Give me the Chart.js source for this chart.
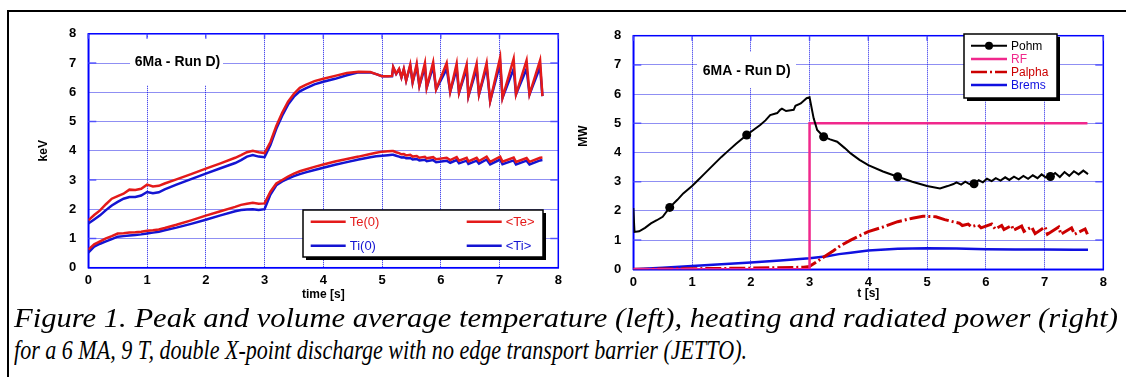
<!DOCTYPE html>
<html><head><meta charset="utf-8">
<script src="https://cdn.jsdelivr.net/npm/chart.js@4.4.1/dist/chart.umd.min.js"></script>
<style>
html,body{margin:0;padding:0;background:#fff;}
body{width:1126px;height:377px;position:relative;overflow:hidden;}
#frameTop{position:absolute;left:7px;top:10px;width:1119px;height:2px;background:#000;}
#frameLeft{position:absolute;left:7px;top:10px;width:2px;height:367px;background:#000;}
canvas{position:absolute;}
.cap{position:absolute;left:14px;font-family:"Liberation Serif","Times New Roman",serif;font-style:italic;font-size:28px;white-space:nowrap;transform-origin:0 0;line-height:1;color:#000;}
</style></head>
<body>
<div id="frameTop"></div><div id="frameLeft"></div>
<canvas id="cl" width="556" height="290" style="left:12px;top:14px;"></canvas>
<canvas id="cr" width="556" height="290" style="left:570px;top:14px;"></canvas>
<div class="cap" id="cap1" style="top:304px;">Figure 1. Peak and volume average temperature (left), heating and radiated power (right)</div>
<div class="cap" id="cap2" style="top:336px;">for a 6 MA, 9 T, double X-point discharge with no edge transport barrier (JETTO).</div>
<script>
// ---------------- DATA ----------------
const xTicks = [0,1,2,3,4,5,6,7,8];
const yTicks = [0,1,2,3,4,5,6,7,8];

// Left panel: temperatures (keV) vs time [s]
const tLeft = [0,0.1,0.2,0.3,0.4,0.5,0.6,0.7,0.8,0.9,1.0,1.1,1.2,1.3,1.5,1.75,2.0,2.25,2.5,2.6,2.7,2.8,2.9,3.0,
  3.1,3.2,3.3,3.4,3.5,3.6,3.7,3.85,4.0,4.2,4.4,4.6,4.8,4.9,5.0,5.1,5.17,
  5.19,5.24,5.29,5.33,5.37,5.41,5.48,5.52,5.59,5.635,5.73,5.76,5.87,5.92,6.10,6.16,6.27,6.31,6.44,6.47,6.61,6.65,6.78,6.84,7.01,7.05,7.24,7.28,7.46,7.51,7.69,7.73];
const te0 = [1.62,1.80,1.96,2.17,2.36,2.45,2.53,2.67,2.66,2.70,2.84,2.78,2.80,2.88,3.02,3.20,3.39,3.57,3.76,3.85,3.95,4.00,3.95,3.92,
  4.30,4.85,5.30,5.68,5.95,6.15,6.25,6.38,6.46,6.56,6.66,6.70,6.69,6.62,6.55,6.55,6.56,
  6.86,6.63,6.80,6.51,6.80,6.40,6.95,6.34,6.98,6.22,7.00,6.16,7.03,6.10,7.00,6.02,6.98,5.99,6.95,5.87,6.98,5.93,7.00,5.70,7.19,5.81,7.15,5.93,7.09,5.93,7.09,5.87];
const ti0 = [1.51,1.65,1.79,1.97,2.13,2.25,2.36,2.42,2.42,2.47,2.59,2.55,2.58,2.68,2.84,3.03,3.22,3.40,3.58,3.68,3.80,3.85,3.80,3.78,
  4.20,4.75,5.20,5.58,5.85,6.03,6.13,6.27,6.36,6.46,6.58,6.68,6.68,6.62,6.55,6.55,6.55,
  6.85,6.63,6.78,6.51,6.78,6.40,6.90,6.34,6.88,6.22,6.86,6.16,6.88,6.10,6.80,6.02,6.80,5.99,6.80,5.87,6.80,5.93,6.86,5.70,6.98,5.81,6.80,5.93,6.80,5.93,6.86,5.87];
const teAvg = [0.62,0.80,0.90,1.00,1.08,1.17,1.18,1.20,1.21,1.23,1.26,1.28,1.31,1.36,1.47,1.62,1.78,1.93,2.08,2.15,2.19,2.22,2.19,2.20,
  2.60,2.88,3.00,3.12,3.22,3.30,3.36,3.45,3.53,3.63,3.72,3.80,3.89,3.93,3.97,3.98,3.99,
  3.99,3.95,3.92,3.88,3.89,3.84,3.86,3.80,3.82,3.76,3.79,3.74,3.78,3.71,3.76,3.68,3.78,3.66,3.76,3.64,3.76,3.65,3.80,3.62,3.80,3.63,3.77,3.62,3.75,3.62,3.76,3.77];
const tiAvg = [0.52,0.72,0.82,0.90,0.98,1.06,1.08,1.10,1.12,1.14,1.17,1.20,1.23,1.28,1.37,1.50,1.64,1.79,1.93,1.97,1.99,2.00,1.97,2.00,
  2.50,2.82,2.95,3.05,3.13,3.20,3.26,3.34,3.42,3.52,3.61,3.70,3.78,3.81,3.83,3.85,3.86,
  3.86,3.83,3.80,3.77,3.78,3.74,3.75,3.70,3.72,3.67,3.69,3.64,3.68,3.61,3.66,3.59,3.68,3.57,3.66,3.55,3.66,3.56,3.70,3.53,3.70,3.54,3.67,3.53,3.66,3.53,3.67,3.68];

// Right panel: powers (MW) vs t [s]
const tPohm = [0,0.02,0.1,0.2,0.3,0.4,0.5,0.62,0.75,0.85,1.0,1.1,1.2,1.35,1.5,1.6,1.75,1.93,2.05,2.16,2.25,2.33,2.45,2.5,2.53,2.6,2.68,2.73,2.76,2.85,2.95,3.0,
  3.07,3.13,3.24,3.35,3.47,3.6,3.7,3.85,4.0,4.25,4.5,4.75,5.0,5.22,5.35,5.45,5.5,5.58,5.65,5.72,5.8,5.88,5.95,6.02,6.1,6.17,6.25,6.33,6.4,6.48,6.56,6.64,6.72,6.8,6.88,6.95,7.02,7.1,7.18,7.26,7.34,7.42,7.5,7.58,7.66,7.74];
const pohm = [2.1,1.28,1.3,1.42,1.57,1.68,1.8,2.12,2.38,2.6,2.85,3.05,3.25,3.55,3.85,4.03,4.3,4.6,4.78,4.94,5.1,5.28,5.35,5.46,5.5,5.42,5.45,5.46,5.6,5.68,5.86,5.89,
  5.17,4.77,4.54,4.45,4.37,4.15,3.97,3.75,3.57,3.35,3.17,3.0,2.85,2.77,2.85,2.92,2.98,2.9,3.0,2.92,2.93,3.05,2.98,3.1,3.02,3.12,3.04,3.15,3.06,3.17,3.08,3.2,3.1,3.22,3.12,3.25,3.15,3.18,3.3,3.16,3.33,3.2,3.36,3.25,3.38,3.26];
const pohmMarkerT = [0.62,1.93,3.24,4.5,5.8,7.1];
const tRF = [0,3.0,3.0,7.73];
const rf  = [0,0,5,5];
const tAlpha = [0,1.0,2.0,2.9,3.0,3.2,3.4,3.52,3.7,4.0,4.25,4.5,4.75,4.93,5.15,5.3,5.5,5.55,5.6,5.7,5.75,5.87,5.92,6.1,6.16,6.27,6.31,6.44,6.47,6.61,6.65,6.78,6.84,7.01,7.05,7.24,7.28,7.46,7.51,7.69,7.73];
const palpha = [0,0.02,0.04,0.07,0.1,0.36,0.63,0.8,1.0,1.29,1.45,1.63,1.75,1.82,1.8,1.7,1.6,1.58,1.5,1.55,1.46,1.52,1.42,1.55,1.38,1.5,1.36,1.5,1.34,1.48,1.3,1.45,1.22,1.45,1.2,1.45,1.2,1.42,1.2,1.38,1.2];
const tBrems = [0,0.5,1.0,1.5,2.0,2.5,3.0,3.3,3.5,3.7,4.0,4.5,5.0,5.5,6.0,6.5,7.0,7.5,7.74];
const brems  = [0,0.05,0.11,0.17,0.23,0.3,0.38,0.45,0.52,0.57,0.64,0.7,0.72,0.71,0.69,0.68,0.68,0.67,0.67];

// ---------------- STYLE / HELPERS ----------------
const FAM = '"Liberation Sans", Arial, sans-serif';
const GRID = 'rgba(20,20,230,0.95)';
const FRAME = '#0000ff';
const RED = '#e41a1a', BLUE = '#1414d2';
const xy = (xs, ys) => xs.map((x, i) => ({x, y: ys[i]}));

function decorPlugin(cfg) {
  return {
    id: 'decor',
    beforeDatasetsDraw(chart) {
      const {ctx, chartArea: ca} = chart;
      const ys = chart.scales.y, xs = chart.scales.x;
      ctx.save();
      ctx.fillStyle = '#fff';
      ctx.fillRect(...cfg.titleBox);
      ctx.font = 'bold 14px ' + FAM;
      ctx.fillStyle = '#000';
      ctx.textAlign = 'center'; ctx.textBaseline = 'middle';
      ctx.fillText(cfg.title, cfg.titlePos[0], cfg.titlePos[1]);
      ctx.strokeStyle = FRAME; ctx.lineWidth = 1.5;
      ctx.strokeRect(ca.left, ca.top, ca.width, ca.height);
      ctx.strokeStyle = 'rgba(70,70,255,0.85)'; ctx.lineWidth = 1.5;
      ctx.beginPath();
      yTicks.forEach(v => { if (v % 2 === 1) {
        const p = ys.getPixelForValue(v);
        ctx.moveTo(ca.left, p); ctx.lineTo(ca.left + 8, p);
        ctx.moveTo(ca.right - 8, p); ctx.lineTo(ca.right, p);
      }});
      xTicks.forEach(v => {
        const p = xs.getPixelForValue(v);
        ctx.moveTo(p, ca.top); ctx.lineTo(p, ca.top + 5);
      });
      ctx.stroke();
      if (cfg.yTitle) {
        ctx.translate(cfg.yTitle.x, cfg.yTitle.y);
        ctx.rotate(-Math.PI / 2);
        ctx.font = 'bold 12px ' + FAM;
        ctx.fillStyle = '#000';
        ctx.fillText(cfg.yTitle.text, 0, 0);
      }
      ctx.restore();
    },
    afterDatasetsDraw(chart) {
      const {ctx} = chart;
      const L = cfg.legend;
      ctx.save();
      const [bx, by, bw, bh] = L.box;
      ctx.fillStyle = '#000';
      ctx.fillRect(bx + 3, by + 3, bw, bh);
      ctx.fillStyle = '#fff';
      ctx.fillRect(bx, by, bw, bh);
      ctx.strokeStyle = '#000'; ctx.lineWidth = 1.5;
      ctx.strokeRect(bx, by, bw, bh);
      ctx.font = L.fontSize + 'px ' + FAM;
      ctx.textAlign = 'left'; ctx.textBaseline = 'middle';
      L.items.forEach(it => {
        const ds = chart.data.datasets[it.ds];
        ctx.strokeStyle = ds.borderColor;
        ctx.lineWidth = Math.min(ds.borderWidth, 2.5);
        ctx.setLineDash(ds.borderDash || []);
        ctx.beginPath(); ctx.moveTo(it.x, it.y); ctx.lineTo(it.x + L.lineLen, it.y); ctx.stroke();
        ctx.setLineDash([]);
        if (it.marker) {
          ctx.fillStyle = ds.borderColor;
          ctx.beginPath(); ctx.arc(it.x + L.lineLen / 2, it.y, 4, 0, Math.PI * 2); ctx.fill();
        }
        ctx.fillStyle = ds.borderColor;
        ctx.fillText(ds.label, it.x + L.lineLen + 4, it.y + 0.5);
      });
      ctx.restore();
    }
  };
}

function options(p) {
  const tickFont = {family: FAM, size: 13, weight: 'bold'};
  const titleFont = {family: FAM, size: 12, weight: 'bold'};
  return {
    responsive: false, animation: false, devicePixelRatio: 1,
    layout: {padding: {left: 0, top: p.padTop, right: p.padRight, bottom: 0}},
    plugins: {legend: {display: false}, tooltip: {enabled: false}},
    elements: {point: {radius: 0, hoverRadius: 0}, line: {tension: 0}},
    scales: {
      x: {
        type: 'linear', min: 0, max: 8,
        afterFit(s) { s.height = p.xAxisH; },
        afterBuildTicks(s) { s.ticks = xTicks.map(v => ({value: v})); },
        grid: {color: GRID, lineWidth: 1, drawTicks: false},
        border: {display: true, color: FRAME, width: 1.5, dash: [1, 1]},
        ticks: {font: tickFont, color: '#000', padding: 5, maxRotation: 0, autoSkip: false},
        title: {display: true, text: p.xTitle, font: titleFont, color: '#000', padding: {top: 0, bottom: p.xTitlePad}}
      },
      y: {
        type: 'linear', min: 0, max: 8,
        afterFit(s) { s.width = p.yAxisW; },
        afterBuildTicks(s) { s.ticks = yTicks.map(v => ({value: v})); },
        grid: {color: GRID, lineWidth: 1, drawTicks: false},
        border: {display: true, color: FRAME, width: 1.5, dash: [1, 1]},
        ticks: {font: tickFont, color: '#000', padding: 12, autoSkip: false},
        title: {display: !!p.yTitle, text: p.yTitle || '', font: titleFont, color: '#000', padding: {top: p.yTitlePad || 0, bottom: 0}}
      }
    }
  };
}

new Chart(document.getElementById('cl'), {
  type: 'line',
  data: {datasets: [
    {label: 'Te(0)', data: xy(tLeft, te0), borderColor: RED, borderWidth: 2.5},
    {label: 'Ti(0)', data: xy(tLeft, ti0), borderColor: BLUE, borderWidth: 2.5},
    {label: '<Te>', data: xy(tLeft, teAvg), borderColor: RED, borderWidth: 2.5},
    {label: '<Ti>', data: xy(tLeft, tiAvg), borderColor: BLUE, borderWidth: 2.5}
  ]},
  options: options({padTop: 18.3, padRight: 9.7, yAxisW: 76.3, xAxisH: 36.3, xTitle: 'time [s]', xTitlePad: 1.8, yTitle: 'keV', yTitlePad: 24.1}),
  plugins: [decorPlugin({
    title: '6Ma - Run D)', titlePos: [165.5, 48.5], titleBox: [118, 24, 93, 47],
    legend: {box: [291, 196, 240, 47], lineLen: 35, fontSize: 13, items: [
      {ds: 0, x: 298.7, y: 207.7}, {ds: 1, x: 298.7, y: 231.7},
      {ds: 2, x: 454.7, y: 207.7}, {ds: 3, x: 454.7, y: 231.7}]}
  })]
});

new Chart(document.getElementById('cr'), {
  type: 'line',
  data: {datasets: [
    {label: 'Pohm', data: xy(tPohm, pohm), borderColor: '#000000', borderWidth: 2,
     pointRadius: c => pohmMarkerT.includes(c.raw && c.raw.x) ? 4.5 : 0, pointBackgroundColor: '#000', pointBorderWidth: 0},
    {label: 'RF', data: xy(tRF, rf), borderColor: '#f0288c', borderWidth: 2.5},
    {label: 'Palpha', data: xy(tAlpha, palpha), borderColor: '#cc0000', borderWidth: 3, borderDash: [16, 3, 2, 3]},
    {label: 'Brems', data: xy(tBrems, brems), borderColor: '#1010e0', borderWidth: 2.5}
  ]},
  options: options({padTop: 21.7, padRight: 22.7, yAxisW: 63.3, xAxisH: 34.7, xTitle: 't [s]', xTitlePad: 2.8}),
  plugins: [decorPlugin({
    title: '6MA - Run D)', titlePos: [176.7, 57], titleBox: [127, 38, 99, 36],
    yTitle: {text: 'MW', x: 14, y: 122},
    legend: {box: [394, 20, 93, 64], lineLen: 36, fontSize: 12, items: [
      {ds: 0, x: 401, y: 31.7, marker: true}, {ds: 1, x: 401, y: 45},
      {ds: 2, x: 401, y: 58}, {ds: 3, x: 401, y: 71}]}
  })]
});

// ---------------- CAPTION FIT ----------------
function fitCap(id, target) {
  const el = document.getElementById(id);
  const w = el.getBoundingClientRect().width;
  el.style.transform = 'scaleX(' + (target / w) + ')';
}
fitCap('cap1', 1104);
fitCap('cap2', 733);
</script>
</body></html>
